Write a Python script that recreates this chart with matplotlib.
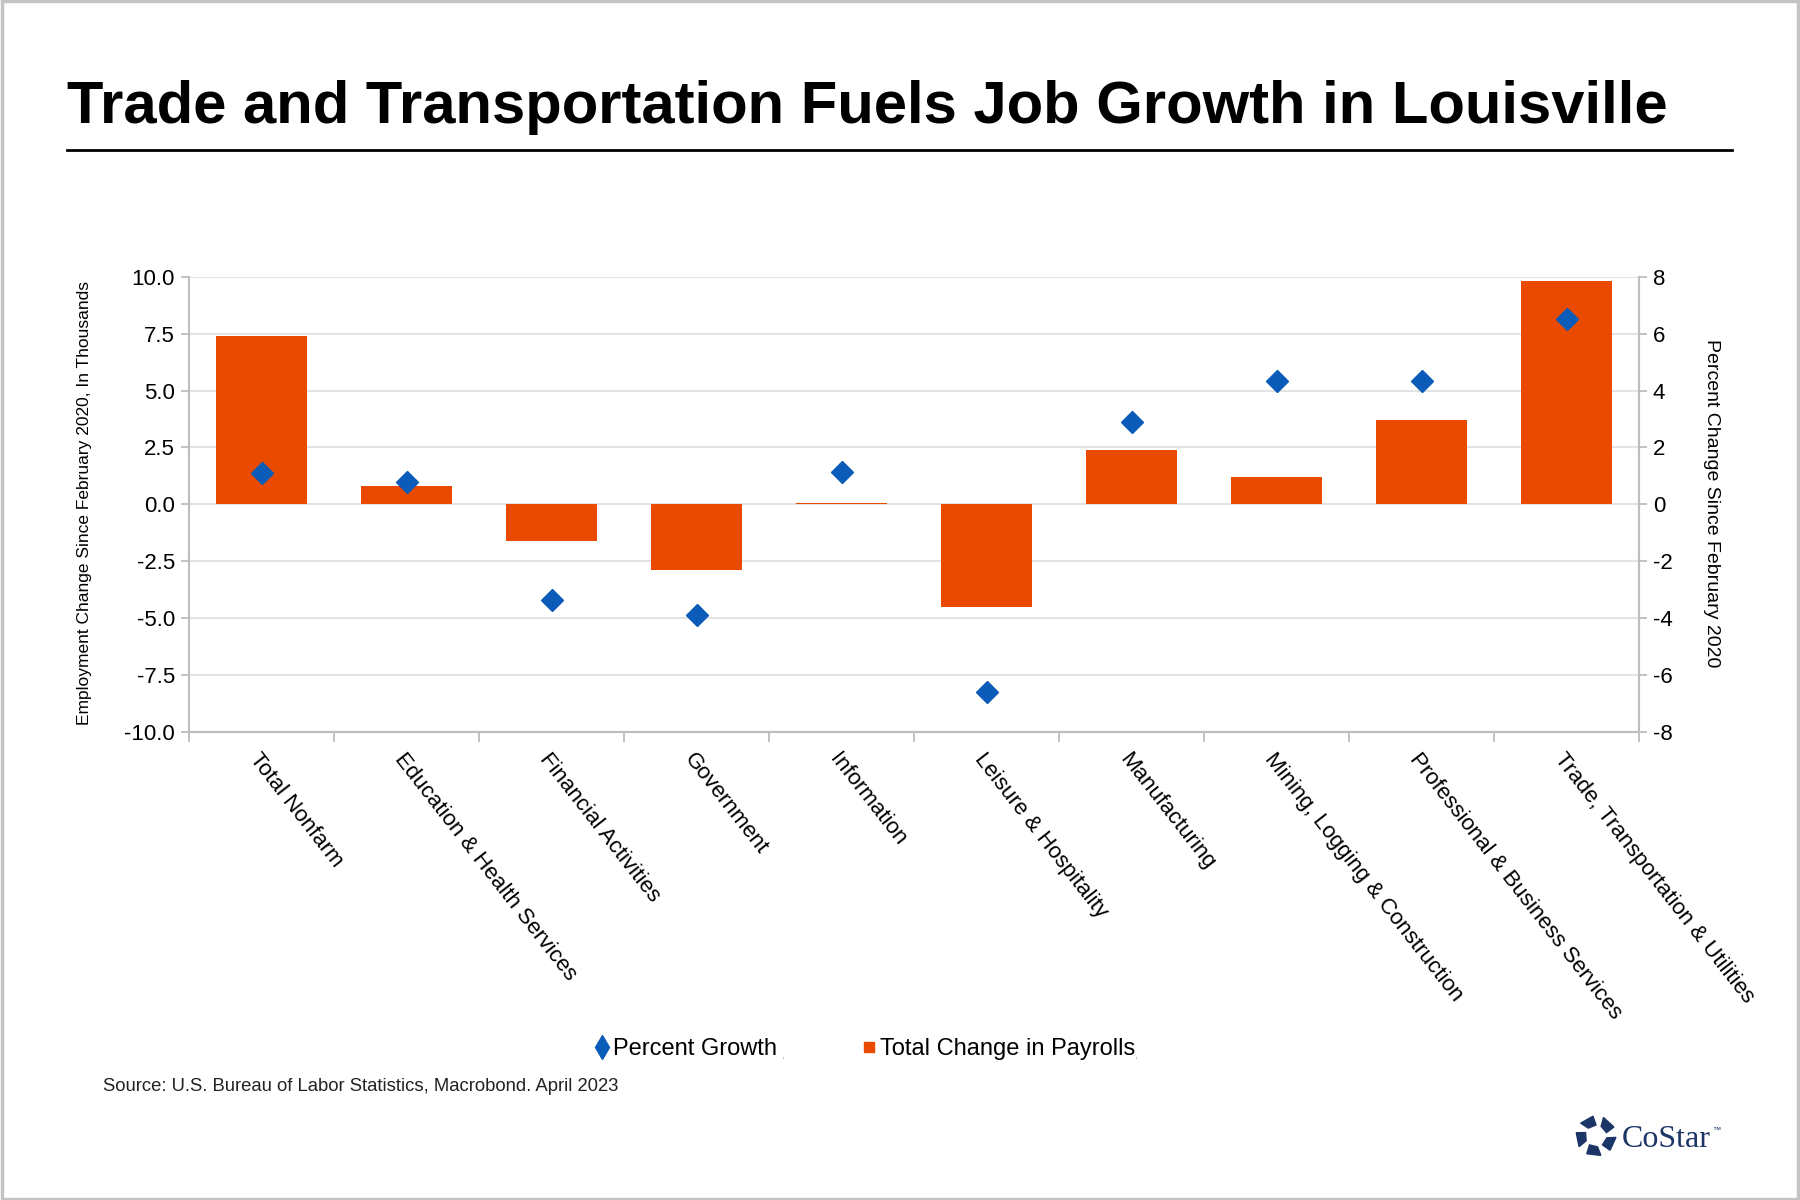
import matplotlib
matplotlib.use("Agg")
import matplotlib.pyplot as plt
import numpy as np
from matplotlib.lines import Line2D
from matplotlib.patches import Rectangle, Polygon

plt.rcParams['font.family'] = ['Liberation Sans', 'DejaVu Sans']

# ---------------- data ----------------
categories = ["Total Nonfarm", "Education & Health Services", "Financial Activities",
              "Government", "Information", "Leisure & Hospitality", "Manufacturing",
              "Mining, Logging & Construction", "Professional & Business Services",
              "Trade, Transportation & Utilities"]
payroll_change = [7.4, 0.8, -1.6, -2.9, 0.07, -4.5, 2.4, 1.2, 3.7, 9.8]   # thousands
percent_growth = [1.1, 0.8, -3.35, -3.9, 1.15, -6.6, 2.9, 4.35, 4.35, 6.5]  # percent
left_ticks = [-10.0, -7.5, -5.0, -2.5, 0.0, 2.5, 5.0, 7.5, 10.0]
right_ticks = [-8, -6, -4, -2, 0, 2, 4, 6, 8]

title = "Trade and Transportation Fuels Job Growth in Louisville"
left_label = "Employment Change Since February 2020, In Thousands"
right_label = "Percent Change Since February 2020"
source = "Source: U.S. Bureau of Labor Statistics, Macrobond. April 2023"

BAR = "#EA4A00"
DIA = "#0B5BB8"
GRID = "#E3E3E3"
AXC = "#BDBDBD"

fig = plt.figure(figsize=(18, 12), dpi=100)

# border
fig.add_artist(Rectangle((0.001, 0.001), 0.998, 0.998, transform=fig.transFigure,
                         fill=False, edgecolor="#C4C4C4", linewidth=2.5))

# title + rule
fig.text(0.0372, 0.8975, title, fontsize=43, fontweight='bold', ha='left', va='baseline')
fig.add_artist(Line2D([0.0372, 0.962], [0.875, 0.875], transform=fig.transFigure,
                      color='black', linewidth=2.0))

ax = fig.add_axes([0.105, 0.39, 0.8056, 0.3794])
x = np.arange(len(categories))
ax.bar(x, payroll_change, width=0.63, color=BAR, zorder=3)
ax.set_xlim(-0.5, len(categories) - 0.5)
ax.set_ylim(-10, 10)
ax.set_yticks(left_ticks)
ax.set_yticklabels([f"{v:.1f}" for v in left_ticks], fontsize=16)
ax.grid(axis='y', color=GRID, linewidth=1.5, zorder=0)
ax.set_axisbelow(True)

ax.set_xticks(np.arange(-0.5, len(categories), 1.0))
ax.set_xticklabels([])
ax.set_xticks(x, minor=True)
ax.set_xticklabels(categories, minor=True, rotation=-52, ha='left', va='top',
                   rotation_mode='anchor', fontsize=16)
ax.tick_params(axis='x', which='minor', length=0, pad=12)
ax.tick_params(axis='x', which='major', length=7, color=AXC, width=1.3)
ax.tick_params(axis='y', length=6, color=AXC, width=1.3, pad=4)

for s in ['top']:
    ax.spines[s].set_visible(False)
for s in ['left', 'bottom', 'right']:
    ax.spines[s].set_color(AXC)
    ax.spines[s].set_linewidth(1.5)

ax2 = ax.twinx()
ax2.plot(x, percent_growth, linestyle='none', marker='D', markersize=11,
         color=DIA, zorder=4)
ax2.set_ylim(-8, 8)
ax2.set_yticks(right_ticks)
ax2.set_yticklabels([str(v) for v in right_ticks], fontsize=16)
ax2.tick_params(axis='y', length=6, color=AXC, width=1.3, pad=4)
for s in ['top', 'left', 'bottom']:
    ax2.spines[s].set_visible(False)
ax2.spines['right'].set_color(AXC)
ax2.spines['right'].set_linewidth(1.5)

fig.text(0.0467, 0.581, left_label, rotation=90, fontsize=12.5, ha='center', va='center')
fig.text(0.9506, 0.581, right_label, rotation=270, fontsize=14, ha='center', va='center')

# legend
handles = [Line2D([], [], linestyle='none', marker='d', markersize=12, color=DIA),
           Line2D([], [], linestyle='none', marker='s', markersize=7, color=BAR)]
fig.legend(handles, ["Percent Growth", "Total Change in Payrolls"], loc='center',
           bbox_to_anchor=(0.48, 0.126), ncol=2, frameon=False, fontsize=17,
           handletextpad=0.05, columnspacing=3.5, handlelength=0.8)
fig.text(781 / 1800, 1 - 1058 / 1200, ",", fontsize=8, color='#AAAAAA', ha='left', va='baseline')
fig.text(1134 / 1800, 1 - 1058 / 1200, ",", fontsize=8, color='#AAAAAA', ha='left', va='baseline')

fig.text(0.0572, 0.091, source, fontsize=13.3, ha='left', va='baseline', color='#222222')

# CoStar logo
lax = fig.add_axes([1572 / 1800, 1 - 1160 / 1200, 48 / 1800, 48 / 1200])
lax.set_xlim(-1.2, 1.2)
lax.set_ylim(-1.2, 1.2)
lax.set_aspect('equal')
lax.axis('off')
for k in range(5):
    a0 = np.deg2rad(90 + k * 72)
    a1 = a0 + np.deg2rad(50)
    pts = [(0.55 * np.cos(a0), 0.55 * np.sin(a0)), (1.0 * np.cos(a0 + 0.15), 1.0 * np.sin(a0 + 0.15)),
           (1.0 * np.cos(a1), 1.0 * np.sin(a1)), (0.55 * np.cos(a1 - 0.1), 0.55 * np.sin(a1 - 0.1))]
    lax.add_patch(Polygon(pts, closed=True, color="#1C3567"))
fig.text(1622 / 1800, 1 - 1147 / 1200, "CoStar", fontsize=23, family='Liberation Serif',
         color="#1C3567", ha='left', va='baseline')
fig.text(1712 / 1800, 1 - 1132 / 1200, "™", fontsize=6, color="#1C3567", ha='left', va='baseline')

fig.savefig("out.png", dpi=100)
